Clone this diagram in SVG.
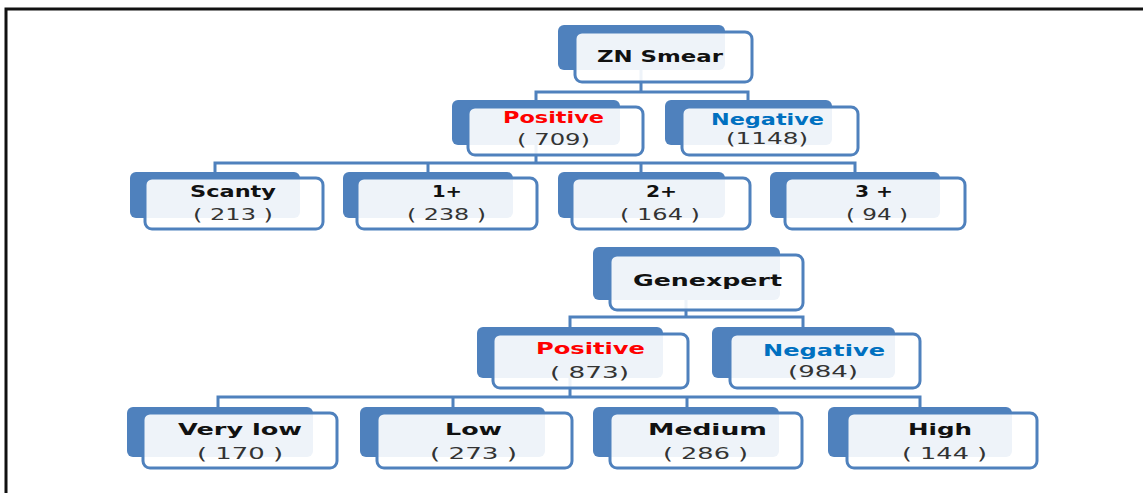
<svg xmlns="http://www.w3.org/2000/svg" width="1143" height="493" viewBox="0 0 1143 493">
<style>
.bk{fill:#4f81bd}
.fr{fill:#ffffff;fill-opacity:0.9;stroke:#4f81bd;stroke-width:3}
.c{fill:none;stroke:#4f81bd;stroke-width:3}
.t{font-family:"DejaVu Sans",Verdana,sans-serif;font-weight:bold;font-size:16px;fill:#111111}
.n{font-family:"DejaVu Sans",Verdana,sans-serif;font-size:16px;fill:#333333}
.pos{fill:#ff0000}
.neg{fill:#0070c0}
</style>
<rect width="1143" height="493" fill="#ffffff"/>
<path d="M6,493 V9 H1143" fill="none" stroke="#111111" stroke-width="3"/>
<g id="connectors">
<path class="c" d="M641,70 V92 M536,100 V92 H748 V100"/>
<path class="c" d="M536,145 V163 M215,172 V163 H855 V172 M428,172 V163 M641,172 V163"/>
<path class="c" d="M686,300 V317 M570,327 V317 H803 V327"/>
<path class="c" d="M570,378 V397 M218,407 V397 H920 V407 M453,407 V397 M687,407 V397"/>
</g>
<g id="zn-smear">
<rect class="bk" x="558" y="25" width="167" height="45" rx="6"/>
<rect class="fr" x="575" y="32" width="177" height="50" rx="7"/>
<text class="t" x="597" y="62" textLength="126" lengthAdjust="spacingAndGlyphs">ZN Smear</text>
</g>
<g id="zn-positive">
<rect class="bk" x="452" y="100" width="168" height="45" rx="6"/>
<rect class="fr" x="468" y="107" width="175" height="48" rx="7"/>
<text class="t pos" x="503" y="123" textLength="101" lengthAdjust="spacingAndGlyphs">Positive</text>
<text class="n" x="517" y="145" textLength="73" lengthAdjust="spacingAndGlyphs">( 709)</text>
</g>
<g id="zn-negative">
<rect class="bk" x="665" y="100" width="167" height="45" rx="6"/>
<rect class="fr" x="682" y="107" width="176" height="48" rx="7"/>
<text class="t neg" x="711" y="125" textLength="113" lengthAdjust="spacingAndGlyphs">Negative</text>
<text class="n" x="726" y="144" textLength="82" lengthAdjust="spacingAndGlyphs">(1148)</text>
</g>
<g id="scanty">
<rect class="bk" x="130" y="172" width="170" height="46" rx="6"/>
<rect class="fr" x="145" y="178" width="178" height="51" rx="7"/>
<text class="t" x="190" y="197" textLength="86" lengthAdjust="spacingAndGlyphs">Scanty</text>
<text class="n" x="193" y="220" textLength="80" lengthAdjust="spacingAndGlyphs">( 213 )</text>
</g>
<g id="one-plus">
<rect class="bk" x="343" y="172" width="170" height="46" rx="6"/>
<rect class="fr" x="357" y="178" width="180" height="51" rx="7"/>
<text class="t" x="432" y="197" textLength="30" lengthAdjust="spacingAndGlyphs">1+</text>
<text class="n" x="407" y="220" textLength="79" lengthAdjust="spacingAndGlyphs">( 238 )</text>
</g>
<g id="two-plus">
<rect class="bk" x="558" y="172" width="167" height="46" rx="6"/>
<rect class="fr" x="572" y="178" width="178" height="51" rx="7"/>
<text class="t" x="646" y="197" textLength="31" lengthAdjust="spacingAndGlyphs">2+</text>
<text class="n" x="620" y="220" textLength="80" lengthAdjust="spacingAndGlyphs">( 164 )</text>
</g>
<g id="three-plus">
<rect class="bk" x="770" y="172" width="170" height="46" rx="6"/>
<rect class="fr" x="785" y="178" width="180" height="51" rx="7"/>
<text class="t" x="855" y="197" textLength="38" lengthAdjust="spacingAndGlyphs">3 +</text>
<text class="n" x="846" y="220" textLength="62" lengthAdjust="spacingAndGlyphs">( 94 )</text>
</g>
<g id="genexpert">
<rect class="bk" x="593" y="247" width="187" height="53" rx="6"/>
<rect class="fr" x="610" y="255" width="193" height="55" rx="7"/>
<text class="t" x="633" y="286" textLength="149" lengthAdjust="spacingAndGlyphs">Genexpert</text>
</g>
<g id="gx-positive">
<rect class="bk" x="477" y="327" width="186" height="51" rx="6"/>
<rect class="fr" x="493" y="334" width="195" height="54" rx="7"/>
<text class="t pos" x="536" y="354" textLength="109" lengthAdjust="spacingAndGlyphs">Positive</text>
<text class="n" x="550" y="378" textLength="79" lengthAdjust="spacingAndGlyphs">( 873)</text>
</g>
<g id="gx-negative">
<rect class="bk" x="712" y="327" width="183" height="51" rx="6"/>
<rect class="fr" x="730" y="334" width="190" height="54" rx="7"/>
<text class="t neg" x="763" y="356" textLength="122" lengthAdjust="spacingAndGlyphs">Negative</text>
<text class="n" x="788" y="377" textLength="70" lengthAdjust="spacingAndGlyphs">(984)</text>
</g>
<g id="very-low">
<rect class="bk" x="127" y="407" width="186" height="50" rx="6"/>
<rect class="fr" x="143" y="413" width="194" height="55" rx="7"/>
<text class="t" x="178" y="435" textLength="124" lengthAdjust="spacingAndGlyphs">Very low</text>
<text class="n" x="197" y="459" textLength="86" lengthAdjust="spacingAndGlyphs">( 170 )</text>
</g>
<g id="low">
<rect class="bk" x="360" y="407" width="185" height="50" rx="6"/>
<rect class="fr" x="377" y="413" width="195" height="55" rx="7"/>
<text class="t" x="445" y="435" textLength="57" lengthAdjust="spacingAndGlyphs">Low</text>
<text class="n" x="430" y="459" textLength="87" lengthAdjust="spacingAndGlyphs">( 273 )</text>
</g>
<g id="medium">
<rect class="bk" x="593" y="407" width="186" height="50" rx="6"/>
<rect class="fr" x="610" y="413" width="192" height="55" rx="7"/>
<text class="t" x="648" y="435" textLength="119" lengthAdjust="spacingAndGlyphs">Medium</text>
<text class="n" x="663" y="459" textLength="85" lengthAdjust="spacingAndGlyphs">( 286 )</text>
</g>
<g id="high">
<rect class="bk" x="828" y="407" width="184" height="50" rx="6"/>
<rect class="fr" x="847" y="413" width="190" height="55" rx="7"/>
<text class="t" x="908" y="435" textLength="64" lengthAdjust="spacingAndGlyphs">High</text>
<text class="n" x="902" y="459" textLength="85" lengthAdjust="spacingAndGlyphs">( 144 )</text>
</g>
</svg>
